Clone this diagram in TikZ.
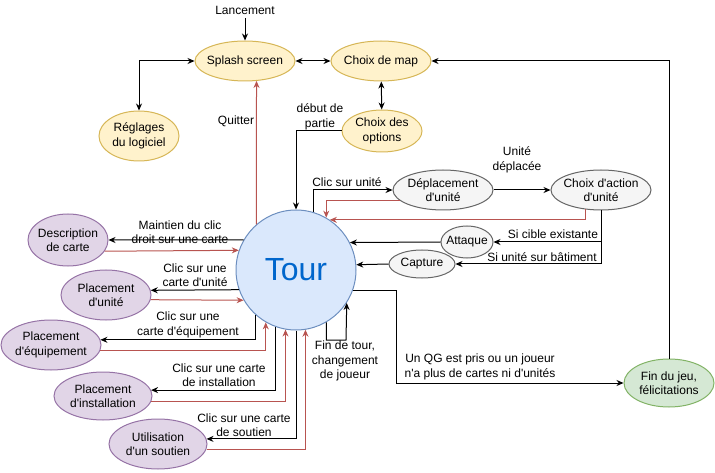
\documentclass[tikz,border=0pt]{standalone}
\usepackage{fontspec}
\newfontfamily\diagfont{Liberation Sans}
\usepackage{tikz}
\usetikzlibrary{shapes.geometric}
\usetikzlibrary{calc}
\usetikzlibrary{arrows.meta}
\usepackage{xcolor}
\definecolor{menufill}{HTML}{FFF2CC}
\definecolor{menudraw}{HTML}{D6B656}
\definecolor{cardfill}{HTML}{E1D5E7}
\definecolor{carddraw}{HTML}{9673A6}
\definecolor{unitfill}{HTML}{F5F5F5}
\definecolor{unitdraw}{HTML}{666666}
\definecolor{tourfill}{HTML}{DAE8FC}
\definecolor{tourdraw}{HTML}{6C8EBF}
\definecolor{tourtext}{HTML}{0066CC}
\definecolor{endfill}{HTML}{D5E8D4}
\definecolor{enddraw}{HTML}{82B366}
\definecolor{backred}{HTML}{B85450}

\begin{document}
\begin{tikzpicture}[x=1pt, y=-1pt, line width=1pt, >={Stealth[length=7pt, width=6pt]},
    every node/.style={font=\diagfont\fontsize{12}{14.5}\selectfont, align=center},
    bubble/.style={ellipse, draw, inner xsep=-4pt, inner ysep=-4pt},
    menu/.style={bubble, fill=menufill, draw=menudraw},
    card/.style={bubble, fill=cardfill, draw=carddraw},
    unitstep/.style={bubble, fill=unitfill, draw=unitdraw},
    retour/.style={->, draw=backred}]
    \useasboundingbox (0,0) rectangle (715,473);

    % Menus
    \node (launch) at (245,10) {Lancement};
    \node[menu, minimum width=100, minimum height=40] (splash) at (245,61) {Splash screen};
    \node[menu, minimum width=100, minimum height=40] (map) at (381,61) {Choix de map};
    \node[menu, minimum width=80, minimum height=50] (settings) at (139,136) {Réglages\\du logiciel};
    \node[menu, minimum width=80, minimum height=42] (options) at (382,131) {Choix des\\options};

    % Tour
    \node[circle, draw=tourdraw, fill=tourfill, minimum size=120, inner sep=0pt,
          text=tourtext, font=\diagfont\fontsize{32}{36}\selectfont] (tour) at (296,270) {Tour};

    % Cartes
    \node[card, minimum width=80, minimum height=52] (desc) at (68,240) {Description\\de carte};
    \node[card, minimum width=90, minimum height=50] (unit) at (106,295) {Placement\\d'unité};
    \node[card, minimum width=100, minimum height=50] (equip) at (51,345) {Placement\\d'équipement};
    \node[card, minimum width=98, minimum height=48] (inst) at (103,396) {Placement\\d'installation};
    \node[card, minimum width=98, minimum height=50] (support) at (158,444) {Utilisation\\d'un soutien};

    % Unites
    \node[unitstep, minimum width=100, minimum height=40] (move) at (443,190) {Déplacement\\d'unité};
    \node[unitstep, minimum width=100, minimum height=40] (choice) at (601,190) {Choix d'action\\d'unité};
    \node[unitstep, minimum width=52, minimum height=32] (attack) at (467,242) {Attaque};
    \node[unitstep, minimum width=66, minimum height=28] (capture) at (422,264) {Capture};

    % Fin du jeu
    \node[bubble, fill=endfill, draw=enddraw, minimum width=90, minimum height=48] (gameover) at (669,383) {Fin du jeu,\\félicitations};

    % Labels
    \node at (236,121) {Quitter};
    \node at (320,117) {début de\\partie};
    \node at (347,182) {Clic sur unité};
    \node at (517,160) {Unité\\déplacée};
    \node at (553,234) {Si cible existante};
    \node at (542,257) {Si unité sur bâtiment};
    \node at (180,232) {Maintien du clic\\droit sur une carte};
    \node at (195,275) {Clic sur une\\carte d'unité};
    \node at (188,325) {Clic sur une\\carte d'équipement};
    \node at (219,375) {Clic sur une carte\\de installation};
    \node at (244,425) {Clic sur une carte\\de soutien};
    \node at (345,361) {Fin de tour,\\changement\\de joueur};
    \node at (480,367) {Un QG est pris ou un joueur\\n'a plus de cartes ni d'unités};

    \coordinate (qgturn) at (396,383);
    \coordinate (loopturn) at (346,340);

    % Connections
    \draw[->] (launch) -- (splash);
    \draw[<->] (splash.west) -| (settings.north);
    \draw[<->] (splash) -- (map);
    \draw[<->] (map) -- (options);
    \draw[->] (options.west) -| (tour.north);
    \draw[retour] (tour.131.8) -- (splash.-60.6);
    \draw[->] (gameover.north) |- (map.east);

    \draw[->] (tour.150) -- (desc.east);
    \draw[retour] (desc.-17) -- (tour.161.5);
    \draw[->] (tour.199.5) -- (unit.6.5);
    \draw[retour] (unit.-6.5) -- (tour.210);
    \draw[->] (tour.228.2) |- (equip.6);
    \draw[retour] (equip.-6) -| (tour.240);
    \draw[->] (tour.250.5) |- (inst.7);
    \draw[retour] (inst.-6) -| (tour.260.4);
    \draw[->] (tour.south) |- (support.6);
    \draw[retour] (support.-6) -| (tour.279.6);

    \draw[->] (tour.73.5) |- (move.west);
    \draw[retour] (move.194.7) -| (tour.60);
    \draw[->] (move.east) -- (choice.west);
    \draw[retour] (choice.231.9) |- (tour.56.4);
    \draw[->] (choice.south) |- (attack.east);
    \draw[->] (choice.south) |- (capture.east);
    \draw[->] (attack.west) -- (tour.27.8);
    \draw[->] (capture.west) -- (tour.5.7);

    \draw[->] (tour.-60) |- (loopturn) -- (tour.-33.6);
    \draw[->] (tour.-20.5) -| (qgturn) -- (gameover.west);
\end{tikzpicture}
\end{document}
